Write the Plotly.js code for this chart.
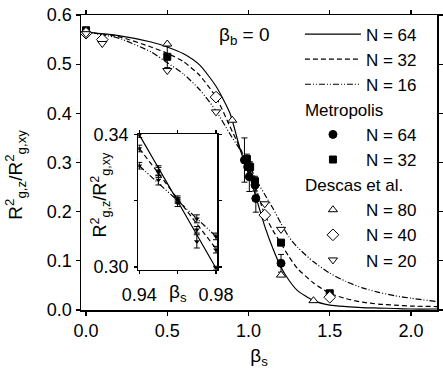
<!DOCTYPE html>
<html>
<head>
<meta charset="utf-8">
<script src="https://cdn.plot.ly/plotly-3.0.1.min.js"></script>
<style>
  html, body { margin: 0; padding: 0; background: #fff; }
  #graph { width: 443px; height: 377px; }
</style>
</head>
<body>
<div id="graph"></div>
<script>
// theory curves (main panel)
const curveX = [0, 0.2, 0.4, 0.5, 0.6, 0.7, 0.8, 0.886, 0.95, 1.0, 1.05, 1.1, 1.15, 1.2, 1.25, 1.3, 1.4, 1.5, 1.6, 1.7, 1.8, 1.9, 2.0, 2.16];
const curve64 = [0.565, 0.558, 0.545, 0.535, 0.521, 0.498, 0.455, 0.400, 0.325, 0.280, 0.225, 0.170, 0.125, 0.087, 0.060, 0.040, 0.019, 0.010, 0.007, 0.005, 0.004, 0.003, 0.002, 0.002];
const curve32 = [0.565, 0.556, 0.535, 0.522, 0.505, 0.477, 0.433, 0.373, 0.328, 0.292, 0.243, 0.194, 0.162, 0.135, 0.108, 0.085, 0.055, 0.034, 0.023, 0.016, 0.012, 0.010, 0.008, 0.007];
const curve16 = [0.565, 0.553, 0.525, 0.503, 0.480, 0.448, 0.405, 0.358, 0.325, 0.298, 0.263, 0.235, 0.207, 0.176, 0.148, 0.128, 0.098, 0.075, 0.058, 0.045, 0.036, 0.029, 0.024, 0.017];

// Metropolis
const met64X = [0.975, 0.995, 1.005, 1.04, 1.045, 1.2];
const met64Y = [0.305, 0.291, 0.271, 0.254, 0.227, 0.095];
const met64E = [0.045, 0.020, 0.030, 0.012, 0.028, 0.018];
const met32X = [0, 0.5, 0.99, 1.01, 1.04, 1.2, 1.5];
const met32Y = [0.569, 0.515, 0.307, 0.291, 0.262, 0.137, 0.034];
const met32E = [0, 0.022, 0.010, 0.010, 0.010, 0.004, 0.004];

// Descas et al.
const des80X = [0, 0.5, 0.9, 1.2, 1.4];
const des80Y = [0.566, 0.541, 0.386, 0.071, 0.019];
const des40X = [0, 0.1, 0.8, 1.1, 1.5];
const des40Y = [0.563, 0.550, 0.433, 0.193, 0.026];
const des20X = [0, 0.1, 0.5, 0.8, 1.1, 1.2];
const des20Y = [0.562, 0.542, 0.487, 0.403, 0.216, 0.164];

// inset
const inX = [0.94, 0.95, 0.96, 0.97, 0.98];
const inCurve64 = [0.3398, 0.3298, 0.3198, 0.3097, 0.2996];
const inCurve32 = [0.3357, 0.3282, 0.3205, 0.3130, 0.3055];
const inCurve16 = [0.3305, 0.3252, 0.3200, 0.3146, 0.3092];
const inPts64 = [0.3398, 0.3262, 0.3192, 0.3077, 0.2997];
const inPts32 = [0.3357, 0.3290, 0.3200, 0.3112, 0.3052];
const inPts16 = [0.3305, 0.3285, 0.3206, 0.3145, 0.3092];
const inErr64 = [0.0008, 0.0015, 0.0010, 0.0020, 0.0005];
const inErr32 = [0.0010, 0.0015, 0.0008, 0.0010, 0.0010];
const inErr16 = [0.0010, 0.0015, 0.0008, 0.0012, 0.0010];

const FONT = "Liberation Sans, Arial, sans-serif";

const lineTrace = (x, y, dash, name, xa, ya, legend) => ({
  x: x, y: y, type: "scatter", mode: "lines",
  line: { color: "black", width: 1.2, dash: dash, shape: "spline", smoothing: 0.6 },
  name: name, legendgroup: "fit", showlegend: legend, xaxis: xa, yaxis: ya,
  hoverinfo: "skip",
});

const dots = (x, y, err, symbol, fill, size, name, group, title) => {
  const t = {
    x: x, y: y, type: "scatter", mode: "markers", name: name,
    marker: { symbol: symbol, size: size, color: fill, line: { color: "black", width: 1 } },
    legendgroup: group,
  };
  if (err) t.error_y = { type: "data", array: err, color: "black", thickness: 1, width: 3 };
  if (title) t.legendgrouptitle = { text: title, font: { size: 17, family: FONT } };
  return t;
};

const inPts = (y, err) => ({
  x: inX, y: y, type: "scatter", mode: "markers", xaxis: "x2", yaxis: "y2", showlegend: false,
  marker: { symbol: "triangle-down", size: 5, color: "black" },
  error_y: { type: "data", array: err, color: "black", thickness: 1, width: 3 },
});

const plotData = [
  lineTrace(curveX, curve64, "solid", "N = 64", "x", "y", true),
  lineTrace(curveX, curve32, "5px,3px", "N = 32", "x", "y", true),
  lineTrace(curveX, curve16, "6px,2px,1px,2px,1px,2px", "N = 16", "x", "y", true),
  dots(met64X, met64Y, met64E, "circle", "black", 8, "N = 64", "met", "Metropolis"),
  dots(met32X, met32Y, met32E, "square", "black", 7, "N = 32", "met"),
  dots(des80X, des80Y, null, "triangle-up", "white", 8, "N = 80", "des", "Descas et al."),
  dots(des40X, des40Y, null, "diamond", "white", 9, "N = 40", "des"),
  dots(des20X, des20Y, null, "triangle-down", "white", 8, "N = 20", "des"),
  lineTrace(inX, inCurve64, "solid", "", "x2", "y2", false),
  lineTrace(inX, inCurve32, "5px,3px", "", "x2", "y2", false),
  lineTrace(inX, inCurve16, "6px,2px,1px,2px,1px,2px", "", "x2", "y2", false),
  inPts(inPts64, inErr64),
  inPts(inPts32, inErr32),
  inPts(inPts16, inErr16),
];

const axisStyle = {
  showline: true, linecolor: "black", linewidth: 1.5, mirror: "ticks",
  ticks: "outside", ticklen: 4, tickwidth: 1.2, tickcolor: "black",
  showgrid: false, zeroline: false,
  tickfont: { size: 18, family: FONT, color: "black" },
};

const layout = {
  width: 443, height: 377,
  margin: { l: 81, r: 6, t: 15, b: 67 },
  paper_bgcolor: "white", plot_bgcolor: "white",
  font: { family: FONT, color: "black", size: 18 },
  showlegend: true,
  legend: {
    x: 0.615, y: 0.995, xanchor: "left", yanchor: "top",
    bgcolor: "rgba(0,0,0,0)", font: { size: 17, family: FONT },
    traceorder: "grouped", tracegroupgap: 0, itemwidth: 56,
  },
  xaxis: Object.assign({}, axisStyle, {
    range: [-0.031, 2.16], tickvals: [0, 0.5, 1, 1.5, 2], ticktext: ["0.0", "0.5", "1.0", "1.5", "2.0"],
    title: { text: "β<sub>s</sub>", font: { size: 19 }, standoff: 8 },
  }),
  yaxis: Object.assign({}, axisStyle, {
    range: [0, 0.6], tickvals: [0, 0.1, 0.2, 0.3, 0.4, 0.5, 0.6], ticktext: ["0.0", "0.1", "0.2", "0.3", "0.4", "0.5", "0.6"],
  }),
  xaxis2: Object.assign({}, axisStyle, {
    domain: [0.161, 0.383], anchor: "y2", range: [0.9395, 0.9807],
    tickvals: [0.94, 0.98], ticktext: ["0.94", "0.98"], ticklen: 3, linewidth: 1.2,
    minor: { tick0: 0.94, dtick: 0.02, ticks: "outside", ticklen: 3, tickcolor: "black", tickwidth: 1.2 },
    ticklabelstandoff: 6,
  }),
  yaxis2: Object.assign({}, axisStyle, {
    domain: [0.137, 0.597], anchor: "x2", range: [0.2992, 0.3401],
    tickvals: [0.30, 0.34], ticktext: ["0.30", "0.34"], ticklen: 3, linewidth: 1.2,
    minor: { tick0: 0.30, dtick: 0.02, ticks: "outside", ticklen: 3, tickcolor: "black", tickwidth: 1.2 },
    ticklabelstandoff: 2,
  }),
  annotations: [
    { xref: "paper", yref: "paper", x: -0.183, y: 0.458, xanchor: "center", yanchor: "middle",
      showarrow: false, textangle: -90,
      text: "R<sup>2</sup><sub>g,z</sub>/R<sup>2</sup><sub>g,xy</sub>", font: { size: 19 } },
    { xref: "paper", yref: "paper", x: 0.055, y: 0.39, xanchor: "center", yanchor: "middle",
      showarrow: false, textangle: -90,
      text: "R<sup>2</sup><sub>g,z</sub>/R<sup>2</sup><sub>g,xy</sub>", font: { size: 18 } },
    { xref: "x2", yref: "paper", x: 0.96, y: 0.058, xanchor: "center", yanchor: "middle",
      showarrow: false, text: "β<sub>s</sub>", font: { size: 19 } },
    { xref: "paper", yref: "paper", x: 0.458, y: 0.929, xanchor: "center", yanchor: "middle",
      showarrow: false, text: "β<sub>b</sub> = 0", font: { size: 19 } },
  ],
};

Plotly.newPlot("graph", plotData, layout, { staticPlot: true });
</script>
</body>
</html>
